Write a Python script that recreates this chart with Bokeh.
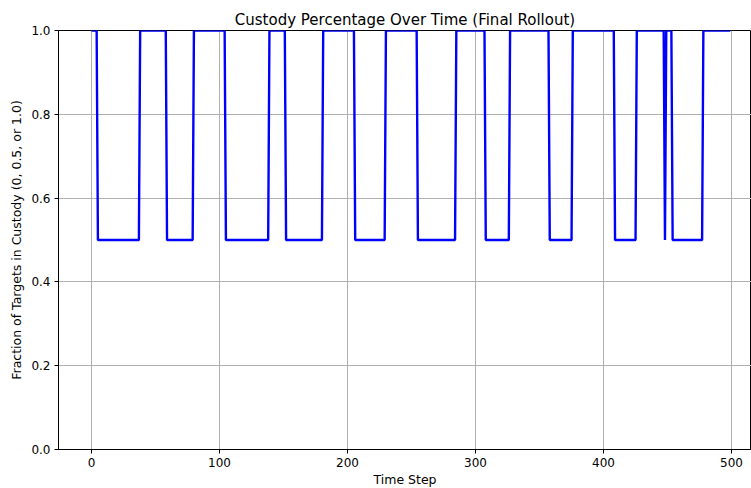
import numpy as np
from bokeh.plotting import figure
from bokeh.models import Range1d, FixedTicker, NumeralTickFormatter, ColumnDataSource
from bokeh.embed import file_html
from bokeh.resources import INLINE

# change points (time step where a new level starts) and the level from there on
change_steps = [0, 5, 38, 59, 80, 105, 139, 152, 181, 206, 230, 255, 285, 308,
                327, 358, 376, 409, 426, 448, 449, 454, 478]
levels = [1.0, 0.5, 1.0, 0.5, 1.0, 0.5, 1.0, 0.5, 1.0, 0.5, 1.0, 0.5, 1.0, 0.5,
          1.0, 0.5, 1.0, 0.5, 1.0, 0.5, 1.0, 0.5, 1.0]
n_steps = 500

x_ticks = [0, 100, 200, 300, 400, 500]
y_ticks = [0.0, 0.2, 0.4, 0.6, 0.8, 1.0]

bounds = change_steps + [n_steps]
t = np.arange(n_steps)
vals = np.repeat(levels, np.diff(bounds))
src = ColumnDataSource(dict(t=t, v=vals))

FONT = "DejaVu Sans"
p = figure(frame_width=693, frame_height=419, output_backend="svg",
           toolbar_location=None,
           x_range=Range1d(-25.8, 515.6), y_range=Range1d(0, 1),
           min_border_left=58, min_border_top=30, min_border_right=0,
           min_border_bottom=39)
p.line("t", "v", source=src, line_color="#0000ff", line_width=2.4)

p.title.text = "Custody Percentage Over Time (Final Rollout)"
p.title.align = "center"
p.title.text_font = FONT
p.title.text_font_size = "15px"
p.title.text_font_style = "normal"
p.title.text_color = "#000000"
p.title.standoff = 4

for ax in (p.xaxis[0], p.yaxis[0]):
    ax.axis_line_color = "#000000"
    ax.axis_line_width = 1
    ax.major_tick_line_color = "#000000"
    ax.major_tick_out = 4
    ax.major_tick_in = 0
    ax.minor_tick_line_color = None
    ax.major_label_text_font = FONT
    ax.major_label_text_font_size = "12px"
    ax.major_label_text_color = "#000000"
    ax.axis_label_text_font = FONT
    ax.axis_label_text_font_size = "12.5px"
    ax.axis_label_text_font_style = "normal"
    ax.axis_label_text_color = "#000000"

p.xaxis[0].ticker = FixedTicker(ticks=x_ticks)
p.yaxis[0].ticker = FixedTicker(ticks=y_ticks)
p.yaxis[0].formatter = NumeralTickFormatter(format="0.0")
p.xaxis[0].axis_label = "Time Step"
p.yaxis[0].axis_label = "Fraction of Targets in Custody (0, 0.5, or 1.0)"
p.xaxis[0].axis_label_standoff = 2
p.yaxis[0].axis_label_standoff = 4
p.xaxis[0].major_label_standoff = 4
p.yaxis[0].major_label_standoff = 4

p.xgrid.grid_line_color = "#b0b0b0"
p.ygrid.grid_line_color = "#b0b0b0"
p.xgrid.grid_line_width = 1
p.ygrid.grid_line_width = 1
p.xgrid.ticker = FixedTicker(ticks=x_ticks)
p.ygrid.ticker = FixedTicker(ticks=y_ticks)

p.outline_line_color = "#000000"
p.outline_line_width = 1
p.background_fill_color = "white"
p.border_fill_color = "white"

open("out.html", "w").write(file_html(p, INLINE))
